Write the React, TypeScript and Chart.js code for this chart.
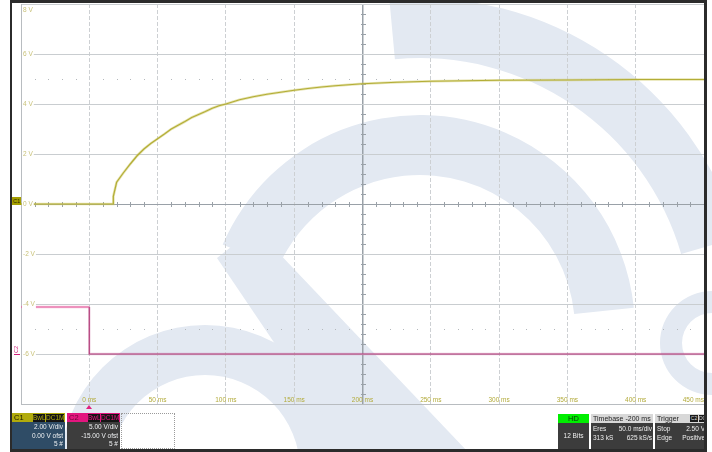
import React, { useEffect, useRef } from 'react';
import { Chart, registerables } from 'chart.js';

Chart.register(...registerables);

// ---- data ----
const c1TimeMs = [-50, 17.5, 17.6, 20, 25, 30, 35, 40, 45, 50, 55, 60, 65, 70, 75, 80, 85, 90, 95, 100, 110, 120, 130, 140, 150, 160, 170, 180, 190, 200, 225, 250, 275, 300, 350, 400, 450];
const c1Volts = [0, 0, 0.31, 0.87, 1.25, 1.6, 1.93, 2.2, 2.42, 2.61, 2.8, 3.0, 3.15, 3.3, 3.46, 3.58, 3.7, 3.83, 3.93, 4.0, 4.17, 4.29, 4.39, 4.47, 4.55, 4.62, 4.68, 4.73, 4.77, 4.81, 4.87, 4.91, 4.93, 4.95, 4.96, 4.98, 4.98];
const c2TimeMs = [-50, 0, 0, 450];
const c2Volts = [4.7, 4.7, 0, 0];

const xMin = -50;
const xMax = 450;
const xStep = 50;
const yMin = -8;
const yMax = 8;
const yStep = 2;
// C2: 5 V/div, -15 V offset -> screen spans -5 .. 35 V
const c2Min = -5;
const c2Max = 35;

const c1Info = ['2.00 V/div', '0.00 V ofst', '5 #'];
const c2Info = ['5.00 V/div', '-15.00 V ofst', '5 #'];

const FONT = '"Liberation Sans", Arial, sans-serif';
const WM = '#e3e9f2';

const pts = (xs: number[], ys: number[]) => xs.map((x, i) => ({ x, y: ys[i] }));

function ring(ctx: CanvasRenderingContext2D, cx: number, cy: number, r0: number, r1: number, a0: number, a1: number) {
  ctx.beginPath();
  ctx.arc(cx, cy, r1, a0, a1);
  ctx.arc(cx, cy, r0, a1, a0, true);
  ctx.closePath();
  ctx.fill();
}

const watermark = {
  id: 'watermark',
  beforeDraw(chart: any) {
    const ctx = chart.ctx;
    ctx.save();
    ctx.fillStyle = WM;
    ring(ctx, 205, 470, 95, 145, Math.PI, 2 * Math.PI);
    ring(ctx, 420, 330, 155, 215, 3.55, 6.18);
    ring(ctx, 420, 330, 272, 332, 4.62, 6.0);
    ring(ctx, 712, 343, 30, 52, Math.PI / 2, 1.5 * Math.PI);
    ctx.beginPath();
    ctx.moveTo(217, 258);
    ctx.lineTo(255, 228);
    ctx.lineTo(468, 452);
    ctx.lineTo(348, 452);
    ctx.closePath();
    ctx.fill();
    ctx.restore();
  },
};

const scopeDecor = {
  id: 'scopeDecor',
  beforeDatasetsDraw(chart: any) {
    const { ctx, scales } = chart;
    const x = scales.x;
    const y = scales.y;
    ctx.save();
    ctx.strokeStyle = '#9aa1a8';
    ctx.lineWidth = 1;
    const y0 = Math.round(y.getPixelForValue(0)) + 0.5;
    for (let t = xMin; t <= xMax; t += 10) {
      if (t % 50 === 0) continue;
      const px = Math.round(x.getPixelForValue(t)) + 0.5;
      ctx.beginPath();
      ctx.moveTo(px, y0 - 2.5);
      ctx.lineTo(px, y0 + 2.5);
      ctx.stroke();
    }
    const xc = Math.round(x.getPixelForValue(200)) + 0.5;
    for (let v = yMin; v <= yMax; v += 0.4) {
      const r = Math.round(v * 10) / 10;
      if (Math.abs(r % 2) < 0.01) continue;
      const py = Math.round(y.getPixelForValue(r)) + 0.5;
      ctx.beginPath();
      ctx.moveTo(xc - 2.5, py);
      ctx.lineTo(xc + 2.5, py);
      ctx.stroke();
    }
    ctx.fillStyle = '#b4b8bc';
    [5, -5].forEach((v) => {
      const py = Math.round(y.getPixelForValue(v));
      for (let t = xMin + 10; t < xMax; t += 10) {
        if (t % 50 === 0) continue;
        const px = Math.round(x.getPixelForValue(t));
        ctx.fillRect(px, py, 1, 1);
      }
    });
    ctx.restore();
  },
};

const c2Colour = (bright: string, dark: string) => (c: any) => (c.p0.parsed.y > 2 && c.p1.parsed.y > 2 ? bright : dark);

function ScopeChart() {
  const ref = useRef<HTMLCanvasElement>(null);
  useEffect(() => {
    if (!ref.current) return;
    const chart = new Chart(ref.current, {
      type: 'line',
      data: {
        datasets: [
          { data: pts(c1TimeMs, c1Volts), borderColor: 'rgba(205,200,95,0.5)', borderWidth: 2.6, yAxisID: 'y' },
          { data: pts(c1TimeMs, c1Volts), borderColor: '#98930c', borderWidth: 1.2, yAxisID: 'y' },
          { data: pts(c2TimeMs, c2Volts), borderColor: 'rgba(230,120,175,0.4)', borderWidth: 2.4, yAxisID: 'y2', segment: { borderColor: c2Colour('rgba(235,130,180,0.45)', 'rgba(200,110,160,0.35)') } },
          { data: pts(c2TimeMs, c2Volts), borderColor: '#c42276', borderWidth: 1.2, yAxisID: 'y2', segment: { borderColor: c2Colour('#e0408a', '#ac2d6c') } },
        ],
      },
      options: {
        animation: false,
        responsive: false,
        maintainAspectRatio: false,
        elements: { point: { radius: 0 }, line: { tension: 0 } },
        layout: { padding: { left: 21, right: 8, top: 4, bottom: 48 } },
        plugins: { legend: { display: false }, tooltip: { enabled: false } },
        scales: {
          x: {
            type: 'linear',
            min: xMin,
            max: xMax,
            afterFit: (s: any) => { s.height = 0; s.paddingLeft = 0; s.paddingRight = 0; s.paddingTop = 0; s.paddingBottom = 0; },
            grid: {
              drawTicks: false,
              color: (c: any) => (c.tick && c.tick.value === 200 ? '#9aa1a8' : '#cdd0d3'),
              lineWidth: (c: any) => (c.tick && c.tick.value === 200 ? 1.5 : 1),
            },
            border: {
              color: '#b8bcc0',
              dash: (c: any) => (c.tick && (c.tick.value === 200 || c.tick.value === xMin) ? [] : [4, 2]),
            },
            ticks: {
              stepSize: xStep,
              mirror: true,
              padding: 0,
              z: 2,
              align: 'inner',
              color: '#b3ab3c',
              font: { family: FONT, size: 6.5 },
              callback: (v: any) => (v === xMin ? '' : `${v} ms`),
            },
          },
          y: {
            type: 'linear',
            min: yMin,
            max: yMax,
            afterFit: (s: any) => { s.width = 0; s.paddingTop = 0; s.paddingBottom = 0; s.paddingLeft = 0; s.paddingRight = 0; },
            grid: {
              drawTicks: false,
              color: (c: any) => (c.tick && c.tick.value === 0 ? '#9aa1a8' : '#c9cdd0'),
            },
            border: { color: '#b8bcc0' },
            ticks: {
              stepSize: yStep,
              mirror: true,
              padding: 2,
              z: 2,
              color: '#c9c27a',
              font: { family: FONT, size: 6.5, lineHeight: 1.8 },
              showLabelBackdrop: true,
              backdropColor: (c: any) => (c.tick && (c.tick.value === yMax || c.tick.value === yMin) ? 'rgba(0,0,0,0)' : '#ffffff'),
              backdropPadding: { left: 1, right: 1, top: 0, bottom: 0 },
              callback: (v: any) => (v === yMax ? ['', `${v} V`] : v === yMin ? '' : `${v} V`),
            },
          },
          y2: {
            type: 'linear',
            display: false,
            min: c2Min,
            max: c2Max,
          },
        },
      } as any,
      plugins: [watermark, scopeDecor],
    });
    return () => chart.destroy();
  }, []);
  return <canvas ref={ref} width={712} height={452} style={{ position: 'absolute', left: 0, top: 0, width: 712, height: 452 }} />;
}

const abs = (l: number, t: number, w: number, h: number, extra: React.CSSProperties = {}): React.CSSProperties => ({
  position: 'absolute', left: l, top: t, width: w, height: h, boxSizing: 'border-box', ...extra,
});

function Tag({ l, t, w, text, color }: { l: number; t: number; w: number; text: string; color: string }) {
  return (
    <div style={abs(l, t, w, 8, { background: '#151515', color, fontSize: 6.5, lineHeight: '8px', textAlign: 'center' })}>{text}</div>
  );
}

function ChannelBox({ l, name, headBg, headColor, tagColor, bodyBg, lines }: any) {
  return (
    <>
      <div style={abs(l, 413, 53, 9, { background: headBg, color: headColor, fontSize: 7.5, lineHeight: '9px', paddingLeft: 2 })}>{name}</div>
      <Tag l={l + 21} t={414} w={12} text="BwL" color={tagColor} />
      <Tag l={l + 34} t={414} w={18} text="DC1M" color={tagColor} />
      <div style={abs(l, 422, 53, 27, { background: bodyBg, color: '#eef0f2', fontSize: 6.5, lineHeight: '8.5px', textAlign: 'right', paddingRight: 2, paddingTop: 1 })}>
        {lines.map((s: string, i: number) => <div key={i}>{s}</div>)}
      </div>
    </>
  );
}

function Row({ a, b }: { a: string; b: string }) {
  return (
    <div style={{ display: 'flex', justifyContent: 'space-between', whiteSpace: 'nowrap' }}>
      <span>{a}</span><span>{b}</span>
    </div>
  );
}

export default function App() {
  return (
    <div style={{ position: 'absolute', left: 0, top: 0, width: 712, height: 452, overflow: 'hidden', background: '#ffffff', fontFamily: FONT }}>
      <ScopeChart />
      <div style={abs(10, 0, 697, 452, { borderStyle: 'solid', borderColor: '#2b2b2b', borderWidth: '3px 3px 3px 2px' })} />
      <div style={abs(12, 197, 9, 8, { background: '#a59f00', color: '#2a2a00', fontSize: 5.5, lineHeight: '8px', textAlign: 'center' })}>C1</div>
      <div style={abs(11, 346, 10, 7, { color: '#d0207a', fontSize: 5.5, lineHeight: '7px', textAlign: 'center', transform: 'rotate(-90deg)' })}>C2</div>
      <div style={abs(14, 354, 6, 1, { background: '#d0207a' })} />
      <div style={{ position: 'absolute', left: 86, top: 405, width: 0, height: 0, borderLeft: '3px solid transparent', borderRight: '3px solid transparent', borderBottom: '4px solid #e0207f' }} />
      <ChannelBox l={12} name="C1" headBg="#b1ab0c" headColor="#1b1b00" tagColor="#b1ab0c" bodyBg="#2f4c66" lines={c1Info} />
      <ChannelBox l={67} name="C2" headBg="#e3167f" headColor="#6a0838" tagColor="#e3167f" bodyBg="#3d3d3d" lines={c2Info} />
      <div style={abs(121, 413, 54, 36, { border: '1px dotted #9a9a9a' })} />
      <div style={abs(558, 414, 31, 9, { background: '#00ee00', color: '#0a3a0a', fontSize: 7.5, lineHeight: '9px', textAlign: 'center' })}>HD</div>
      <div style={abs(558, 423, 31, 26, { background: '#3c3c3c', color: '#eeeeee', fontSize: 6.5, lineHeight: '26px', textAlign: 'center' })}>12 Bits</div>
      <div style={abs(591, 414, 62, 9, { background: '#d8d8d8', color: '#222', fontSize: 7, lineHeight: '9px', paddingLeft: 2, whiteSpace: 'nowrap' })}>Timebase -200 ms</div>
      <div style={abs(591, 423, 62, 26, { background: '#3c3c3c', color: '#eeeeee', fontSize: 6.5, lineHeight: '8.5px', padding: '2px 1px 0 2px' })}>
        <Row a="Eres" b="50.0 ms/div" />
        <Row a="313 kS" b="625 kS/s" />
      </div>
      <div style={abs(655, 414, 50, 9, { background: '#d8d8d8', color: '#222', fontSize: 7, lineHeight: '9px', paddingLeft: 2, overflow: 'hidden', whiteSpace: 'nowrap' })}>Trigger</div>
      <div style={abs(690, 415, 8, 7, { background: '#1a1a1a', color: '#ddd', fontSize: 5, lineHeight: '7px', textAlign: 'center' })}>C2</div>
      <div style={abs(699, 415, 6, 7, { background: '#1a1a1a', color: '#ddd', fontSize: 5, lineHeight: '7px', overflow: 'hidden' })}>DC</div>
      <div style={abs(655, 423, 50, 26, { background: '#3c3c3c', color: '#eeeeee', fontSize: 6.5, lineHeight: '8.5px', padding: '2px 0 0 2px', overflow: 'hidden' })}>
        <div style={{ display: 'flex', whiteSpace: 'nowrap' }}><span style={{ width: 30 }}>Stop</span><span>2.50 V</span></div>
        <div style={{ display: 'flex', whiteSpace: 'nowrap' }}><span style={{ width: 27 }}>Edge</span><span>Positive</span></div>
      </div>
      <div style={abs(704, 0, 3, 452, { background: '#2b2b2b' })} />
    </div>
  );
}
